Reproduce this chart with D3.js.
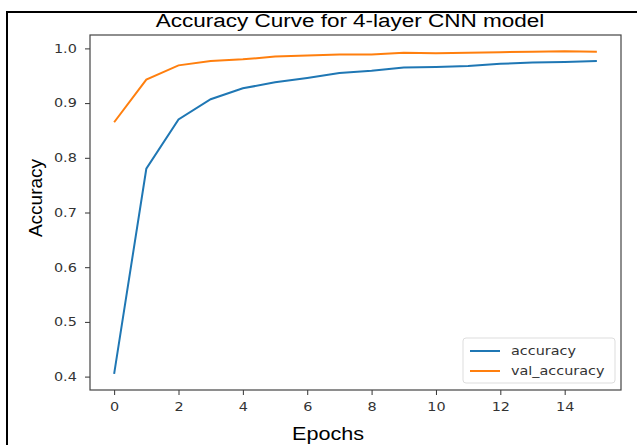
<!DOCTYPE html>
<html>
<head>
<meta charset="utf-8">
<script src="https://cdnjs.cloudflare.com/ajax/libs/d3/7.8.5/d3.min.js"></script>
<style>
	body { margin: 0; background: #fff; }
	svg { display: block; }
	.tick text { font-family: "DejaVu Sans", sans-serif; font-size: 12px; fill: #333; }
</style>
</head>
<body>
<div class="chart"></div>
<script>
	var epochs = [0, 1, 2, 3, 4, 5, 6, 7, 8, 9, 10, 11, 12, 13, 14, 15];
	var accuracy = [0.405, 0.780, 0.870, 0.907, 0.927, 0.938, 0.946, 0.955, 0.959, 0.965, 0.966, 0.968, 0.972, 0.974, 0.975, 0.977];
	var valAccuracy = [0.865, 0.943, 0.969, 0.977, 0.980, 0.985, 0.987, 0.989, 0.989, 0.992, 0.991, 0.992, 0.993, 0.994, 0.995, 0.994];
	var seriesNames = ["accuracy", "val_accuracy"];
	var xTicks = [0, 2, 4, 6, 8, 10, 12, 14];
	var yTicks = [0.4, 0.5, 0.6, 0.7, 0.8, 0.9, 1.0];

	var W = 637, H = 445;
	var margin = { top: 35, right: 16, bottom: 55, left: 90 },
		width = W - margin.left - margin.right,
		height = H - margin.top - margin.bottom;

	var colors = ["#1f77b4", "#ff7f0e"];
	var stretch = "scale(1.2,1)"; // the source picture is a little wider than tall

	var svg = d3.select(".chart").append("svg")
		.attr("width", W)
		.attr("height", H);

	// outer frame
	svg.append("rect")
		.attr("x", 7).attr("y", 12)
		.attr("width", W).attr("height", H)
		.attr("fill", "none")
		.attr("stroke", "#000")
		.attr("stroke-width", 2);

	var g = svg.append("g")
		.attr("transform", "translate(" + margin.left + "," + margin.top + ")");

	var x = d3.scaleLinear().domain([-0.75, 15.75]).range([0, width]);
	var yMin = d3.min(accuracy), yMax = d3.max(valAccuracy), pad = (yMax - yMin) * 0.05;
	var y = d3.scaleLinear().domain([yMin - pad, yMax + pad]).range([height, 0]);

	var xAxis = d3.axisBottom(x).tickValues(xTicks).tickSize(5).tickPadding(7).tickFormat(d3.format("d"));
	var yAxis = d3.axisLeft(y).tickValues(yTicks).tickSize(5).tickPadding(6).tickFormat(d3.format(".1f"));

	g.append("g")
		.attr("transform", "translate(0," + height + ")")
		.call(xAxis)
		.call(function (s) {
			s.select(".domain").remove();
			s.selectAll("line").attr("stroke", "#333");
			s.selectAll("text").attr("transform", stretch);
		});

	g.append("g")
		.call(yAxis)
		.call(function (s) {
			s.select(".domain").remove();
			s.selectAll("line").attr("stroke", "#333");
			s.selectAll("text").attr("transform", stretch);
		});

	var line = d3.line()
		.x(function (d, i) { return x(epochs[i]); })
		.y(function (d) { return y(d); });

	[accuracy, valAccuracy].forEach(function (vals, i) {
		g.append("path")
			.datum(vals)
			.attr("fill", "none")
			.attr("stroke", colors[i])
			.attr("stroke-width", 2)
			.attr("d", line);
	});

	// spines
	g.append("rect")
		.attr("width", width)
		.attr("height", height)
		.attr("fill", "none")
		.attr("stroke", "#444")
		.attr("stroke-width", 1.2);

	// legend
	var legend = g.append("g")
		.attr("transform", "translate(" + (width - 158) + "," + (height - 52) + ")");
	legend.append("rect")
		.attr("width", 152).attr("height", 45)
		.attr("rx", 3)
		.attr("fill", "#fff")
		.attr("stroke", "#ddd");
	seriesNames.forEach(function (name, i) {
		var row = legend.append("g").attr("transform", "translate(0," + (13 + i * 20) + ")");
		row.append("line")
			.attr("x1", 7).attr("x2", 37)
			.attr("stroke", colors[i]).attr("stroke-width", 2);
		row.append("text")
			.attr("transform", "translate(48,0) " + stretch)
			.attr("dy", "0.35em")
			.style("font-family", "'DejaVu Sans', sans-serif")
			.style("font-size", "12px")
			.style("fill", "#333")
			.text(name);
	});

	// title and labels
	svg.append("text")
		.attr("transform", "translate(350,27) scale(1.25,1)")
		.attr("text-anchor", "middle")
		.style("font-family", "'Liberation Sans', Arial, sans-serif")
		.style("font-size", "18px")
		.text("Accuracy Curve for 4-layer CNN model");

	svg.append("text")
		.attr("transform", "translate(42,198) rotate(-90)")
		.attr("text-anchor", "middle")
		.style("font-family", "'Liberation Sans', Arial, sans-serif")
		.style("font-size", "19px")
		.text("Accuracy");

	svg.append("text")
		.attr("transform", "translate(328,440) " + stretch)
		.attr("text-anchor", "middle")
		.style("font-family", "'Liberation Sans', Arial, sans-serif")
		.style("font-size", "18px")
		.text("Epochs");
</script>
</body>
</html>
